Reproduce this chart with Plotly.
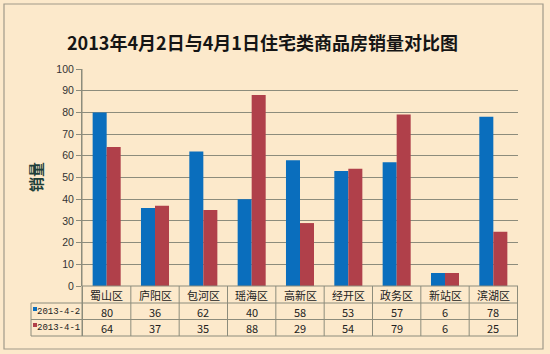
import plotly.graph_objects as go

categories = ["蜀山区", "庐阳区", "包河区", "瑶海区", "高新区", "经开区", "政务区", "新站区", "滨湖区"]
series_names = ["2013-4-2", "2013-4-1"]
values_0402 = [80, 36, 62, 40, 58, 53, 57, 6, 78]
values_0401 = [64, 37, 35, 88, 29, 54, 79, 6, 25]
y_ticks = [0, 10, 20, 30, 40, 50, 60, 70, 80, 90, 100]

W, H = 550, 354
L, R, T, B = 82, 518, 69, 286
BG = "#FCE9CB"
BLUE = "#0A6EBD"
RED = "#B0404A"
LINE = "#8C8C7C"
FONT = "Noto Sans CJK SC"

def px(xp):
    return (xp - L) / (R - L)

def py(yp):
    return (B - yp) / (B - T)

fig = go.Figure()
fig.add_bar(x=categories, y=values_0402, name=series_names[0], marker_color=BLUE, marker_line_width=0)
fig.add_bar(x=categories, y=values_0401, name=series_names[1], marker_color=RED, marker_line_width=0)

shapes = []
shapes.append(dict(type="rect", xref="paper", yref="paper", x0=px(4), x1=px(543), y0=py(4), y1=py(349),
                   line=dict(color="#A09A8A", width=1.2), layer="below"))
for yy in [303, 319.5, 336]:
    shapes.append(dict(type="line", xref="paper", yref="paper", x0=px(31), x1=px(R), y0=py(yy), y1=py(yy),
                       line=dict(color=LINE, width=1)))
shapes.append(dict(type="line", xref="paper", yref="paper", x0=0, x1=1, y0=0, y1=0, line=dict(color=LINE, width=1)))
for i in range(len(categories) + 1):
    shapes.append(dict(type="line", xref="x", yref="paper", x0=i - 0.5, x1=i - 0.5, y0=0, y1=py(336),
                       line=dict(color=LINE, width=1)))
shapes.append(dict(type="line", xref="paper", yref="paper", x0=0, x1=0, y0=1, y1=py(336), line=dict(color=LINE, width=1)))
shapes.append(dict(type="line", xref="paper", yref="paper", x0=px(31), x1=px(31), y0=py(303), y1=py(336),
                   line=dict(color=LINE, width=1)))
for k, c in enumerate([BLUE, RED]):
    yc = [309, 325][k]
    shapes.append(dict(type="rect", xref="paper", yref="paper", x0=px(33), x1=px(37), y0=py(yc - 2), y1=py(yc + 2),
                       fillcolor=c, line=dict(width=0)))

annotations = []
tf = dict(family=FONT, size=11, color="#222222")
for i, c in enumerate(categories):
    annotations.append(dict(x=i, y=py(295), xref="x", yref="paper", text=c, showarrow=False, font=tf,
                            xanchor="center", yanchor="middle"))
    annotations.append(dict(x=i, y=py(311.5), xref="x", yref="paper", text=str(values_0402[i]), showarrow=False,
                            font=tf, xanchor="center", yanchor="middle"))
    annotations.append(dict(x=i, y=py(328), xref="x", yref="paper", text=str(values_0401[i]), showarrow=False,
                            font=tf, xanchor="center", yanchor="middle"))
for k, nm in enumerate(series_names):
    annotations.append(dict(x=px(35.5), y=py([311.5, 328][k]), xref="paper", yref="paper", text=nm, showarrow=False,
                            xanchor="left", yanchor="middle", borderpad=0,
                            font=dict(family="Liberation Mono", size=9, color="#222222")))
annotations.append(dict(x=px(35), y=py(177), xref="paper", yref="paper", text="<b>销量</b>", textangle=-90,
                        showarrow=False, xanchor="center", yanchor="middle",
                        font=dict(family=FONT, size=15, color="#1E3F3A")))
annotations.append(dict(x=px(262), y=py(42), xref="paper", yref="paper",
                        text="<b>2013年4月2日与4月1日住宅类商品房销量对比图</b>",
                        showarrow=False, xanchor="center", yanchor="middle",
                        font=dict(family=FONT, size=18, color="#151515")))

fig.update_layout(
    width=W, height=H,
    margin=dict(l=L, r=W - R, t=T, b=H - B),
    paper_bgcolor=BG, plot_bgcolor=BG,
    barmode="group", bargap=0.42, bargroupgap=0,
    showlegend=False,
    shapes=shapes, annotations=annotations,
    xaxis=dict(showticklabels=False, showgrid=False, zeroline=False, ticks=""),
    yaxis=dict(range=[0, 100], tickvals=y_ticks, showgrid=True, gridcolor=LINE, gridwidth=1,
               showline=True, linecolor=LINE, ticks="outside", ticklen=5, tickcolor=LINE,
               zeroline=False, tickfont=dict(family="Liberation Sans", size=10.5, color="#333333")),
)
fig.write_html("out.html")
